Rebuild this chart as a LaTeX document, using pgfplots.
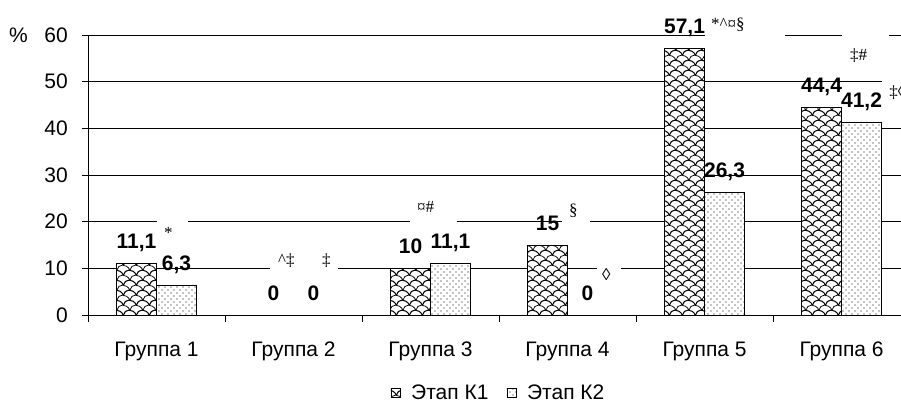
\documentclass[border=0pt]{standalone}
\usepackage{fontspec}
\setmainfont{Liberation Sans}
\newfontfamily\serif{Liberation Serif}
\usepackage{pgfplots}
\pgfplotsset{compat=1.18}
\usetikzlibrary{patterns}
\pgfdeclarepatternformonly{shingle}{\pgfqpoint{-7pt}{-1pt}}{\pgfqpoint{20pt}{11pt}}{\pgfqpoint{13pt}{10pt}}{%
  \pgfsetlinewidth{0.75pt}%
  \pgfpathmoveto{\pgfqpoint{0pt}{0pt}}%
  \pgfpathcurveto{\pgfqpoint{1pt}{6pt}}{\pgfqpoint{9pt}{7pt}}{\pgfqpoint{13pt}{0pt}}%
  \pgfpathmoveto{\pgfqpoint{6.5pt}{5pt}}%
  \pgfpathcurveto{\pgfqpoint{7.5pt}{11pt}}{\pgfqpoint{15.5pt}{12pt}}{\pgfqpoint{19.5pt}{5pt}}%
  \pgfpathmoveto{\pgfqpoint{-6.5pt}{5pt}}%
  \pgfpathcurveto{\pgfqpoint{-5.5pt}{11pt}}{\pgfqpoint{2.5pt}{12pt}}{\pgfqpoint{6.5pt}{5pt}}%
  \pgfusepath{stroke}%
}
\pgfdeclarepatternformonly{sparsedots}{\pgfqpoint{-1pt}{-1pt}}{\pgfqpoint{7pt}{7pt}}{\pgfqpoint{6pt}{6pt}}{%
  \pgfpathcircle{\pgfqpoint{0pt}{0pt}}{0.55pt}%
  \pgfpathcircle{\pgfqpoint{3pt}{3pt}}{0.55pt}%
  \pgfusepath{fill}%
}
\newcommand{\bigf}{\fontsize{21}{25}\selectfont}
\newcommand{\annf}{\serif\fontsize{17}{20}\selectfont}
\begin{document}
\begin{tikzpicture}
\useasboundingbox (-88pt,-95pt) rectangle (813pt,315pt);
\begin{axis}[
  at={(0pt,0pt)}, anchor=south west,
  scale only axis, width=813pt, height=280pt,
  xmin=-0.5, xmax=5.434, ymin=0, ymax=60,
  clip=false,
  axis x line=bottom, axis y line=left,
  axis line style={-, line width=0.8pt, black},
  ybar,
  bar width=40pt,
  ytick={0,10,...,60},
  ymajorgrids, grid style={black, line width=0.8pt},
  xtick={0,...,5},
  xticklabels={Группа 1,Группа 2,Группа 3,Группа 4,Группа 5,Группа 6},
  minor xtick={-0.5,0.5,...,4.5},
  tick align=outside,
  major tick length=6pt, minor tick length=7pt,
  tick style={black, line width=0.8pt},
  major x tick style={draw=none},
  /pgf/number format/assume math mode=true,
  /pgf/number format/use comma,
  tick label style={font=\bigf},
  yticklabel style={anchor=east, inner sep=0pt, xshift=-14pt},
  xticklabel style={anchor=base, inner sep=0pt, yshift=-35pt},
  nodes near coords,
  every node near coord/.append style={font=\bfseries\bigf, anchor=base, inner sep=0pt, yshift=15pt},
  legend image code/.code={\draw[#1, line width=0.6pt] (0pt,-4.5pt) rectangle (9pt,4.5pt);},
  legend style={at={(0.5037,-0.2786)}, anchor=center, draw=none, fill=none,
    legend columns=2, font=\bigf, inner sep=0pt, nodes={inner sep=0pt},
    /tikz/column 1/.style={column sep=11pt},
    /tikz/column 2/.style={column sep=18pt},
    /tikz/column 3/.style={column sep=11pt}},
]
% white boxes interrupting grid lines behind annotations
\fill[white] (axis cs:0.0036,16.71) rectangle (axis cs:0.2299,21.86);
\fill[white] (axis cs:0.8285,7.29) rectangle (axis cs:1.3248,14.36);
\fill[white] (axis cs:1.8504,18.21) rectangle (axis cs:2.1934,25.29);
\fill[white] (axis cs:2.9599,17.79) rectangle (axis cs:3.1642,25.07);
\fill[white] (axis cs:3.2153,6.43) rectangle (axis cs:3.3905,12.43);
\fill[white] (axis cs:4.0036,58.71) rectangle (axis cs:4.5876,65.79);
\fill[white] (axis cs:5.0036,53.36) rectangle (axis cs:5.3467,61.5);
\fill[white] (axis cs:5.2956,45.21) rectangle (axis cs:5.7920,51.21);
\addplot[bar shift=-20pt, fill=white, draw=black, line width=0.8pt, postaction={pattern=shingle}]
  coordinates {(0,11.1) (1,0) (2,10) (3,15) (4,57.1) (5,44.4)};
\addlegendentry{Этап К1}
\addplot[bar shift=20pt, fill=white, draw=black, line width=0.8pt, postaction={pattern=sparsedots}]
  coordinates {(0,6.3) (1,0) (2,11.1) (3,0) (4,26.3) (5,41.2)};
\addlegendentry{Этап К2}
% significance marks
\node[anchor=base west, inner sep=0pt, font=\annf] at (axis cs:0.0547,16.5) {*};
\node[anchor=base west, inner sep=0pt, font=\annf] at (axis cs:0.8869,10.71) {\textasciicircum‡};
\node[anchor=base west, inner sep=0pt, font=\annf] at (axis cs:1.208,10.71) {‡};
\node[anchor=base west, inner sep=0pt, font=\annf] at (axis cs:1.9015,21.86) {¤\#};
\node[anchor=base west, inner sep=0pt, font=\annf] at (axis cs:3.0109,21.26) {§};
\node[anchor=base west, inner sep=0pt, font=\annf] at (axis cs:3.2518,7.29) {◊};
\node[anchor=base west, inner sep=0pt, font=\annf] at (axis cs:4.0474,61.16) {*\textasciicircum¤§};
\node[anchor=base west, inner sep=0pt, font=\annf] at (axis cs:5.062,54.51) {‡\#};
\node[anchor=base west, inner sep=0pt, font=\annf] at (axis cs:5.3467,46.59) {‡◊};
\end{axis}
\node[anchor=base west, inner sep=0pt, font=\bigf] at (-79pt,272.3pt) {\%};
\end{tikzpicture}
\end{document}
